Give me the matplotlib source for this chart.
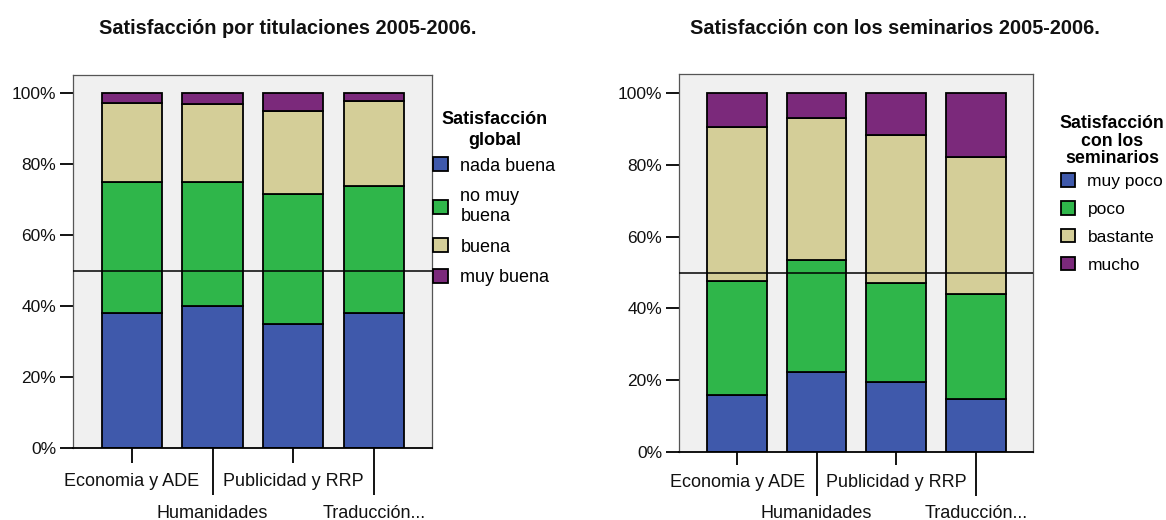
import matplotlib
matplotlib.use("Agg")
import matplotlib.pyplot as plt
import numpy as np
from matplotlib.patches import Patch

plt.rcParams['font.family'] = ['Liberation Sans', 'DejaVu Sans']

categories = ["Economia y ADE", "Humanidades", "Publicidad y RRP", "Traducción..."]

# Left chart: Satisfacción global (percent)
global_labels = ["nada buena", "no muy\nbuena", "buena", "muy buena"]
global_nada = [38.0, 40.1, 35.1, 38.2]
global_nomuy = [37.1, 35.0, 36.4, 35.7]
global_buena = [22.3, 21.8, 23.5, 24.1]
global_muy = [2.6, 3.1, 5.0, 2.0]

# Right chart: Satisfacción con los seminarios (percent)
sem_labels = ["muy poco", "poco", "bastante", "mucho"]
sem_muypoco = [15.9, 22.3, 19.6, 14.9]
sem_poco = [31.6, 31.1, 27.5, 29.2]
sem_bastante = [43.1, 39.7, 41.1, 38.0]
sem_mucho = [9.4, 6.9, 11.8, 17.9]

colors = ["#3f59ab", "#2fb64a", "#d4ce98", "#7b297b"]
yticks = [0, 20, 40, 60, 80, 100]

fig = plt.figure(figsize=(11.66, 5.2), dpi=100)
FW, FH = 1166, 520


def px_axes(l, t, r, b):
    return fig.add_axes([l / FW, 1 - b / FH, (r - l) / FW, (b - t) / FH])


def draw(ax, series, ytop, xl, xr, short_len, long_len, pad):
    x = np.arange(len(categories))
    bottom = np.zeros(len(categories))
    for vals, c in zip(series, colors):
        ax.bar(x, vals, width=0.75, bottom=bottom, color=c, edgecolor="black",
               linewidth=1.3, zorder=2)
        bottom += np.array(vals)
    ax.axhline(50, color="black", linewidth=1.1, zorder=3)
    ax.set_facecolor("#f0f0f0")
    ax.set_xlim(xl, xr)
    ax.set_ylim(0, ytop)
    ax.set_yticks(yticks)
    ax.set_yticklabels([f"{v}%" for v in yticks], fontsize=12.5, color="#111")
    ax.tick_params(axis="y", length=9.5, width=1.3, pad=2.5, color="black")
    ax.set_xticks([0, 2])
    ax.set_xticklabels([categories[0], categories[2]], fontsize=13, color="#111")
    ax.set_xticks([1, 3], minor=True)
    ax.set_xticklabels([categories[1], categories[3]], minor=True, fontsize=13,
                       color="#111")
    ax.tick_params(axis="x", which="major", length=short_len, width=1.3, pad=pad,
                   color="black")
    ax.tick_params(axis="x", which="minor", length=long_len, width=1.3, pad=pad,
                   color="black")
    for s in ["top", "right", "left"]:
        ax.spines[s].set_color("#555555")
        ax.spines[s].set_linewidth(0.9)
    ax.spines["bottom"].set_color("black")
    ax.spines["bottom"].set_linewidth(1.3)


ax1 = px_axes(73, 75, 432, 448)
draw(ax1, [global_nada, global_nomuy, global_buena, global_muy], 105.2, -0.73, 3.72,
     11, 34, 7)
ax2 = px_axes(679, 74, 1033, 452)
draw(ax2, [sem_muypoco, sem_poco, sem_bastante, sem_mucho], 105.3, -0.73, 3.72,
     9.5, 31.5, 6.5)

fig.text(288 / FW, 1 - 28 / FH, "Satisfacción por titulaciones 2005-2006.",
         ha="center", va="center", fontsize=14.3, fontweight="bold", color="#111")
fig.text(895 / FW, 1 - 29 / FH, "Satisfacción con los seminarios 2005-2006.",
         ha="center", va="center", fontsize=14.3, fontweight="bold", color="#111")

h1 = [Patch(facecolor=c, edgecolor="black", linewidth=1.3) for c in colors]
leg1 = fig.legend(h1, global_labels, loc="upper left",
                  bbox_to_anchor=(426 / FW, 1 - 104 / FH), frameon=False,
                  fontsize=13, title="Satisfacción\nglobal",
                  title_fontproperties={"weight": "bold", "size": 13},
                  handlelength=0.8, handleheight=0.8, handletextpad=0.7,
                  labelspacing=0.75, borderaxespad=0)
leg1._legend_box.align = "center"
leg1._legend_box.sep = 6
leg1.get_title().set_multialignment("center")
leg1.get_title().set_linespacing(1.3)

h2 = [Patch(facecolor=c, edgecolor="black", linewidth=1.3) for c in colors]
leg2 = fig.legend(h2, sem_labels, loc="upper left",
                  bbox_to_anchor=(1053 / FW, 1 - 108 / FH), frameon=False,
                  fontsize=12.5, title="Satisfacción\ncon los\nseminarios",
                  title_fontproperties={"weight": "bold", "size": 12.8},
                  handlelength=0.8, handleheight=0.8, handletextpad=0.7,
                  labelspacing=0.7, borderaxespad=0)
leg2._legend_box.align = "center"
leg2._legend_box.sep = 4.5
leg2.get_title().set_multialignment("center")
leg2.get_title().set_linespacing(1.05)

fig.savefig("out.png", dpi=100)
